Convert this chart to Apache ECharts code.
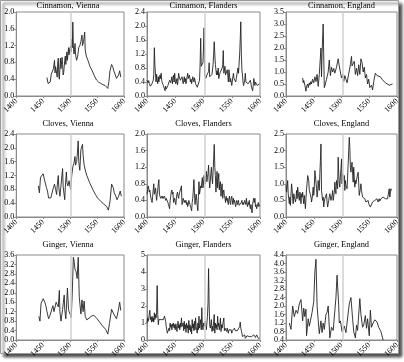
<!DOCTYPE html>
<html><head><meta charset="utf-8">
<script src="https://cdn.jsdelivr.net/npm/echarts@6/dist/echarts.min.js"></script>
<style>html,body{margin:0;padding:0;background:#fff}#c{width:404px;height:362px}</style>
</head><body><div id="c"></div>
<script>
// ---- data ----
const panelTitles = ["Cinnamon, Vienna","Cinnamon, Flanders","Cinnamon, England","Cloves, Vienna","Cloves, Flanders","Cloves, England","Ginger, Vienna","Ginger, Flanders","Ginger, England"];
const xTicks = [1400,1450,1500,1550,1600];
const markYear = 1502;

const cinnamonViennaYears = [1457,1459,1461,1463,1465,1467,1469,1471,1472,1473,1474,1476,1477,1478,1479,1480,1482,1483,1485,1486,1487,1488,1490,1491,1492,1494,1495,1496,1497,1498,1499,1500,1501,1502,1503,1504,1505,1506,1507,1508,1509,1510,1512,1514,1516,1518,1520,1522,1523,1525,1527,1528,1530,1533,1537,1541,1545,1549,1553,1557,1561,1565,1568,1570,1572,1574,1577,1579,1581,1584,1586,1588,1590,1592,1594];
const cinnamonViennaValues = [0.44,0.30,0.32,0.33,0.52,0.55,0.65,0.85,0.55,0.70,0.62,0.45,0.80,0.90,0.50,0.40,0.90,0.65,0.92,0.75,0.50,0.55,0.85,0.95,0.75,1.05,0.85,1.00,1.15,0.98,1.10,1.10,1.20,1.05,1.35,1.15,1.76,1.20,1.00,1.05,1.25,1.00,0.85,0.95,1.15,1.20,1.30,1.45,1.20,1.30,1.52,1.10,0.95,0.85,0.70,0.60,0.48,0.38,0.33,0.30,0.27,0.25,0.22,0.18,0.35,0.60,0.75,0.70,0.60,0.50,0.42,0.38,0.50,0.60,0.45];

const cinnamonFlandersStart = 1400;
const cinnamonFlandersValues = [
0.45,0.42,0.38,0.44,0.35,0.30,0.28,0.33,0.30,0.36,
0.32,0.45,0.60,1.38,0.88,0.85,0.40,0.62,0.45,0.35,
0.55,0.40,0.35,0.60,0.50,0.65,0.45,0.38,0.35,0.30,
0.35,0.25,0.15,0.28,0.20,0.25,0.22,0.30,0.28,0.35,
0.45,0.50,0.38,0.42,0.55,0.35,0.50,0.60,0.40,0.65,
0.45,0.35,0.40,0.50,0.32,0.45,0.65,0.55,0.60,0.45,
0.50,0.40,0.55,0.60,0.35,0.45,0.55,0.40,0.50,0.35,
0.45,0.55,0.65,0.50,0.45,0.60,0.55,0.40,0.48,0.35,
0.45,0.55,0.50,0.40,0.52,0.45,0.35,0.40,0.30,0.25,
0.30,0.25,0.20,0.45,0.90,1.65,0.85,0.80,0.90,0.95,
1.40,1.95,0.60,0.55,0.50,0.52,0.60,0.55,0.60,0.70,
0.95,0.55,0.58,0.60,0.55,0.62,0.60,0.90,1.20,1.55,
1.20,0.90,0.85,0.60,0.72,0.60,0.80,0.50,0.55,0.65,
0.60,0.70,0.65,0.80,0.90,1.30,0.65,0.70,0.85,0.60,
0.55,0.65,0.75,0.60,0.40,0.75,0.60,0.40,0.50,0.45,
0.30,0.35,0.55,0.65,0.50,0.55,0.45,0.40,0.50,0.60,
0.55,0.80,0.65,0.60,1.20,1.60,2.12,1.20,0.75,0.60,
0.40,0.30,0.30,0.45,0.65,0.40,0.45,0.40,0.42,0.35,
0.40,0.35,0.30,0.45,0.40,0.25,0.20,0.15,0.30,0.50,
0.45,0.30,0.40,0.45,0.35,0.30,0.25,0.35,0.30,0.35];

const cinnamonEnglandYears = [1430,1431,1432,1434,1436,1437,1439,1440,1442,1443,1445,1446,1448,1450,1452,1454,1456,1458,1460,1463,1464,1465,1467,1469,1471,1473,1476,1478,1480,1482,1484,1486,1488,1491,1494,1496,1498,1500,1502,1504,1506,1508,1510,1513,1516,1518,1519,1521,1523,1525,1527,1529,1531,1533,1535,1537,1539,1541,1543,1545,1547,1549,1551,1554,1556,1558,1561,1564,1567,1570,1573,1576,1579,1582,1586,1589,1592];
const cinnamonEnglandValues = [0.75,0.55,0.65,0.45,0.20,0.40,0.50,0.35,0.55,0.45,0.60,0.50,0.70,0.55,0.80,0.60,0.90,0.40,0.90,2.00,0.80,1.80,3.00,0.35,0.50,0.70,1.00,1.50,0.85,1.20,1.00,1.15,0.95,1.20,1.55,1.25,1.00,0.75,0.90,0.60,0.85,0.70,0.55,0.60,1.30,1.65,1.25,1.30,1.45,0.90,1.15,0.85,1.30,0.90,1.55,1.40,1.00,1.20,0.75,0.90,0.50,0.70,0.35,0.45,0.25,0.60,0.95,0.85,0.90,0.80,0.70,0.65,0.55,0.60,0.45,0.50,0.50];

const clovesViennaYears = [1441,1443,1445,1447,1450,1452,1454,1456,1458,1460,1462,1464,1467,1469,1471,1473,1475,1476,1478,1479,1481,1483,1486,1487,1488,1490,1491,1493,1494,1496,1498,1499,1501,1503,1505,1507,1509,1510,1512,1513,1515,1516,1518,1520,1523,1524,1526,1527,1529,1531,1536,1542,1547,1551,1557,1562,1565,1568,1571,1574,1577,1580,1582,1585,1587,1590,1593,1595];
const clovesViennaValues = [0.90,0.70,1.15,1.20,1.25,1.10,1.05,0.85,0.75,0.55,0.50,0.55,0.55,0.85,0.95,0.80,0.65,0.90,1.20,0.85,0.60,0.90,1.40,0.90,0.75,0.50,0.85,1.30,1.00,0.90,1.05,0.95,0.80,1.20,1.45,1.55,1.75,1.50,1.60,1.75,2.20,1.60,1.35,1.95,2.10,1.80,1.50,1.55,1.30,1.20,1.00,0.80,0.65,0.55,0.45,0.38,0.35,0.30,0.20,0.45,0.95,0.85,0.70,0.60,0.50,0.60,0.75,0.60];

const clovesFlandersStart = 1400;
const clovesFlandersValues = [
0.55,0.65,0.75,0.70,0.60,0.65,0.55,0.45,0.40,0.35,
0.50,0.65,0.80,0.55,0.60,0.70,0.55,0.40,0.55,0.65,
0.80,0.90,0.55,0.50,0.45,0.48,0.50,0.45,0.50,0.45,
0.48,0.50,0.45,0.40,0.45,0.42,0.45,0.35,0.30,0.25,
0.20,0.40,0.50,0.60,0.65,0.55,0.60,0.35,0.40,0.45,
0.35,0.30,0.45,0.55,0.60,0.50,0.45,0.55,0.60,0.65,
0.70,0.75,0.30,0.35,0.45,0.40,0.35,0.40,0.35,0.40,
0.30,0.35,0.25,0.30,0.40,0.35,0.30,0.25,0.20,0.15,
0.35,0.45,0.65,0.90,0.60,0.30,0.45,0.55,0.40,0.25,
0.15,0.50,0.85,0.55,0.65,0.75,0.70,0.85,0.95,0.70,
0.80,1.00,0.90,0.80,1.00,1.10,0.85,0.95,1.05,1.25,
0.90,0.70,0.85,1.05,1.20,0.95,0.80,1.10,1.40,1.75,
1.20,1.00,0.60,0.85,1.10,0.70,0.90,1.05,0.65,0.80,
0.85,0.50,0.70,0.80,0.45,0.60,0.65,0.50,0.45,0.35,
0.50,0.40,0.45,0.35,0.30,0.45,0.50,0.35,0.30,0.45,
0.50,0.40,0.30,0.45,0.35,0.40,0.30,0.25,0.35,0.40,
0.30,0.35,0.40,0.28,0.32,0.30,0.25,0.35,0.40,0.30,
0.35,0.30,0.28,0.40,0.35,0.30,0.45,0.30,0.25,0.35,
0.30,0.40,0.25,0.20,0.30,0.15,0.10,0.30,0.40,0.45,
0.35,0.45,0.25,0.30,0.20,0.25,0.30,0.35,0.25,0.30];

const clovesEnglandStart = 1400;
const clovesEnglandValues = [
0.95,0.75,0.90,1.10,0.70,0.55,0.40,0.60,0.35,0.70,
1.00,0.85,0.55,0.40,0.70,0.65,0.70,0.45,0.55,0.80,
0.55,0.90,0.75,0.60,0.50,0.75,0.65,0.40,0.70,0.60,
0.75,0.55,0.40,0.65,0.70,0.25,0.55,0.85,1.00,1.25,
1.20,1.10,0.80,0.75,0.85,0.60,0.45,0.55,0.70,0.90,
0.65,0.90,1.40,1.25,1.20,0.85,0.60,0.75,1.10,0.90,
0.80,1.30,1.70,2.20,0.80,0.75,0.50,0.60,0.30,0.45,
0.55,0.50,0.60,0.70,0.45,0.30,0.40,0.50,0.60,0.70,
0.75,0.50,0.45,0.65,0.80,0.50,0.55,0.75,1.05,0.80,
0.70,1.10,1.00,0.85,1.80,1.30,1.00,0.90,1.20,1.45,
1.75,1.00,1.30,1.20,1.10,1.25,0.80,1.10,0.95,0.90,
0.85,1.20,1.60,2.00,2.40,2.10,1.50,1.35,1.55,1.65,
1.70,1.05,1.50,1.20,0.90,1.10,1.00,0.95,1.20,1.25,
1.35,1.00,0.65,0.75,0.85,1.00,0.80,0.70,0.60,0.55,
0.65,0.60,0.55,0.50,0.45,0.50,0.40,0.45,0.50,0.40,
0.35,0.40,0.30,0.28,0.25,0.35,0.45,0.40,0.50,0.45,
0.50,0.45,0.50,0.45,0.55,0.50,0.45,0.50,0.55,0.48,
0.50,0.55,0.60,0.58,0.55,0.60,0.55,0.58,0.60,0.55,
0.60,0.55,0.58,0.55,0.60,0.58,0.85,0.60,0.55,0.85,
0.80,0.82];

const gingerViennaYears = [1442,1444,1446,1450,1453,1455,1457,1460,1462,1465,1468,1470,1472,1474,1476,1478,1480,1481,1483,1486,1489,1490,1492,1495,1497,1498,1500,1502,1504,1506,1507,1509,1511,1513,1515,1517,1520,1522,1524,1526,1528,1531,1534,1539,1544,1547,1550,1555,1560,1566,1570,1573,1577,1581,1586,1589,1592,1594];
const gingerViennaValues = [1.00,0.80,1.55,1.75,1.60,1.45,1.20,0.90,1.00,1.05,1.45,1.20,1.40,1.60,1.50,1.40,2.10,1.20,0.80,1.30,1.90,1.30,0.90,2.20,1.30,1.20,1.10,0.95,2.00,3.50,3.40,3.00,2.90,2.60,3.50,1.80,1.10,1.70,1.20,1.65,1.00,0.85,0.90,1.00,1.05,1.00,0.90,0.75,0.60,0.45,0.25,0.70,1.30,1.10,0.90,1.20,1.60,1.25];

const gingerFlandersStart = 1400;
const gingerFlandersValues = [
1.00,1.30,1.10,1.25,1.50,1.75,1.20,1.35,1.05,1.40,
1.10,1.30,1.05,1.60,1.20,1.50,1.30,1.60,3.20,1.50,
0.90,1.20,1.10,1.30,1.15,1.20,1.30,1.15,1.10,1.20,
1.30,1.40,1.50,1.10,0.80,0.60,0.40,0.30,0.50,0.70,
0.55,1.00,0.75,0.90,0.60,0.95,0.80,1.00,0.70,0.90,
0.60,0.95,0.80,0.50,0.85,1.10,0.70,0.90,0.60,1.00,
0.75,1.30,0.80,0.70,1.00,0.55,1.10,0.65,0.90,0.45,
1.00,0.70,0.85,0.40,1.15,0.60,0.90,0.50,0.80,0.35,
1.20,0.70,0.95,0.55,1.10,0.60,1.30,0.80,0.55,0.40,
1.00,0.60,1.40,0.70,0.90,1.20,0.60,1.90,0.90,0.60,
1.00,0.80,0.70,1.10,0.75,0.60,1.00,1.40,2.20,4.20,
2.00,0.90,0.70,0.60,1.20,0.50,0.80,0.55,1.10,1.50,
0.40,1.00,0.70,0.90,0.60,1.40,0.80,1.00,0.60,0.90,
1.30,0.50,0.90,0.70,0.75,0.60,1.30,0.55,0.70,0.60,
0.75,0.50,0.70,0.65,0.40,0.60,0.55,0.50,0.70,0.60,
0.40,0.55,0.50,0.60,0.45,0.70,0.55,0.50,0.45,0.60,
0.55,0.50,0.45,0.60,0.80,1.05,0.70,0.55,0.40,0.20,
0.10,0.25,0.15,0.30,0.10,0.20,0.15,0.25,0.20,0.30,
0.15,0.20,0.25,0.15,0.30,0.20,0.25,0.15,0.20,0.30,
0.20,0.25,0.15,0.20,0.30,0.25,0.20,0.10,0.15,0.10];

const gingerEnglandYears = [1406,1409,1412,1415,1418,1421,1424,1427,1430,1432,1434,1436,1437,1440,1442,1444,1447,1450,1452,1454,1456,1459,1460,1463,1465,1467,1469,1472,1474,1476,1479,1482,1485,1487,1490,1492,1495,1496,1498,1501,1503,1505,1508,1510,1514,1517,1520,1522,1525,1527,1529,1533,1535,1538,1540,1543,1545,1547,1550,1552,1554,1557,1560,1564,1567,1571,1574,1575];
const gingerEnglandValues = [1.20,0.90,2.00,1.50,1.80,1.65,2.10,2.30,1.30,1.90,1.50,1.85,0.60,1.40,1.05,1.30,1.70,2.20,3.60,4.20,2.00,1.00,0.70,1.30,0.75,1.20,0.90,1.60,1.70,2.00,0.50,1.00,0.85,0.90,2.40,3.45,2.00,1.20,1.30,0.80,0.85,1.05,0.75,0.80,2.10,2.40,1.40,0.80,0.50,1.10,0.85,2.35,1.60,1.00,1.10,1.55,0.95,1.40,0.60,1.80,1.00,1.20,1.35,1.25,1.00,0.80,0.50,0.40];

// y-axis ranges: [min, max, interval, decimals]
const yRanges = [[0,2.0,0.4,1],[0,2.4,0.4,1],[0,3.5,0.5,1],[0,2.4,0.4,1],[0,2.0,0.4,1],[0,2.5,0.5,1],[0,3.6,0.4,1],[0,5,1,0],[0.4,4.4,0.4,1]];

function fromYears(ys, vs){ return ys.map((y,i)=>[y, vs[i]]); }
function fromStart(s, vs){ return vs.map((v,i)=>[s+i, v]); }
const panelData = [
  fromYears(cinnamonViennaYears, cinnamonViennaValues),
  fromStart(cinnamonFlandersStart, cinnamonFlandersValues),
  fromYears(cinnamonEnglandYears, cinnamonEnglandValues),
  fromYears(clovesViennaYears, clovesViennaValues),
  fromStart(clovesFlandersStart, clovesFlandersValues),
  fromStart(clovesEnglandStart, clovesEnglandValues),
  fromYears(gingerViennaYears, gingerViennaValues),
  fromStart(gingerFlandersStart, gingerFlandersValues),
  fromYears(gingerEnglandYears, gingerEnglandValues)
];

// ---- layout ----
const cols = [{left:12,width:112},{left:147,width:113},{left:286,width:111}];
const rows = [{top:12,height:84,titleTop:2},{top:134,height:83,titleTop:120},{top:255,height:85,titleTop:241}];
const FONT = "'Liberation Serif', 'DejaVu Serif', serif";

const grid=[], xAxis=[], yAxis=[], series=[], title=[];
for (let i=0;i<9;i++){
  const c = cols[i%3], r = rows[Math.floor(i/3)];
  grid.push({left:c.left, top:r.top, width:c.width, height:r.height, show:true, borderColor:'#8a8a8a', borderWidth:1, backgroundColor:'transparent', containLabel:false});
  title.push({text:panelTitles[i], left:c.left + c.width/2, top:r.titleTop, textAlign:'center', padding:0,
    textStyle:{fontFamily:FONT, fontSize:8.4, fontWeight:'normal', color:'#000'}});
  xAxis.push({type:'value', gridIndex:i, min:xTicks[0], max:xTicks[xTicks.length-1], interval:50,
    axisLine:{show:true, lineStyle:{color:'#8a8a8a'}}, axisTick:{show:true, length:2, lineStyle:{color:'#8a8a8a'}},
    splitLine:{show:false},
    axisLabel:{rotate:45, margin:4, fontFamily:FONT, fontSize:8, color:'#000', formatter:v=>String(v)}});
  const yr = yRanges[i];
  yAxis.push({type:'value', gridIndex:i, min:yr[0], max:yr[1], interval:yr[2],
    axisLine:{show:true, lineStyle:{color:'#8a8a8a'}}, axisTick:{show:true, length:2, lineStyle:{color:'#8a8a8a'}},
    splitLine:{show:false},
    axisLabel:{margin:2, fontFamily:FONT, fontSize:8, color:'#000', formatter:v=>v.toFixed(yr[3])}});
  series.push({type:'line', xAxisIndex:i, yAxisIndex:i, data:panelData[i], showSymbol:false, symbol:'none',
    lineStyle:{color:'#222', width:0.9}, z:3,
    markLine:{silent:true, symbol:['none','none'], label:{show:false}, animation:false,
      lineStyle:{color:'#cfcfcf', width:1.5, type:'solid'}, data:[{xAxis:markYear}]}});
}

const chart = echarts.init(document.getElementById('c'), null, {renderer:'canvas'});
chart.setOption({
  animation:false,
  backgroundColor:'#fff',
  graphic:[{type:'rect', z:-10, shape:{x:0.5,y:0.5,width:398,height:353},
    style:{fill:'#fff', stroke:'#9a9a9a', lineWidth:1, shadowBlur:3, shadowOffsetX:3, shadowOffsetY:3, shadowColor:'rgba(0,0,0,0.75)'}}],
  title, grid, xAxis, yAxis, series
});
</script></body></html>
